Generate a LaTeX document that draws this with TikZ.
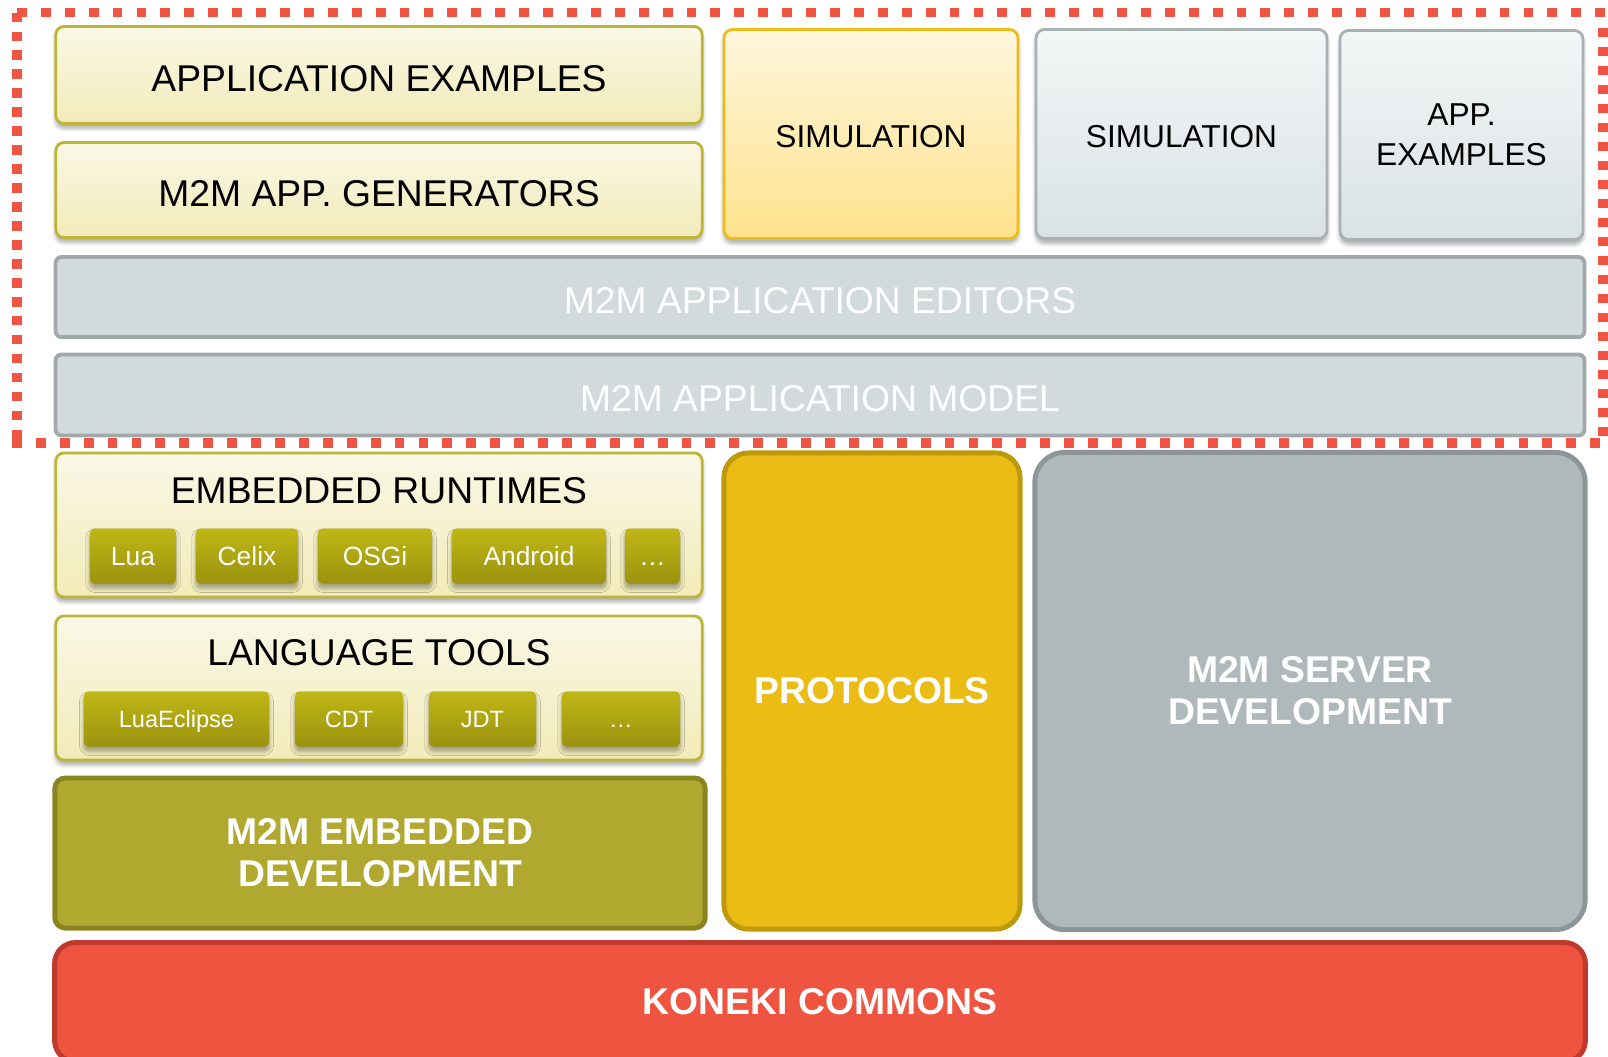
\documentclass[tikz,border=0pt]{standalone}
\usepackage{fontspec}
\setmainfont{Liberation Sans}
\usetikzlibrary{shadows,shadows.blur}

\definecolor{dashred}{HTML}{EF5542}
\definecolor{creamtop}{HTML}{FAF8E6}
\definecolor{creambot}{HTML}{F2EBB9}
\definecolor{olivedraw}{HTML}{BDB43A}
\definecolor{goldtop}{HTML}{FFF7DE}
\definecolor{goldbot}{HTML}{FFE28C}
\definecolor{golddraw}{HTML}{EDBB1A}
\definecolor{greytop}{HTML}{F3F6F6}
\definecolor{greybot}{HTML}{DAE2E5}
\definecolor{greydraw}{HTML}{A8B1B4}
\definecolor{barfill}{HTML}{D3DADC}
\definecolor{bardraw}{HTML}{A2A9AC}
\definecolor{chiptop}{HTML}{BFB716}
\definecolor{chipbot}{HTML}{9B930E}
\definecolor{embfill}{HTML}{B1A92F}
\definecolor{embdraw}{HTML}{8A8420}
\definecolor{protofill}{HTML}{EABC14}
\definecolor{protodraw}{HTML}{BE990C}
\definecolor{srvfill}{HTML}{AFB8BA}
\definecolor{srvdraw}{HTML}{8D9598}
\definecolor{konfill}{HTML}{EE5440}
\definecolor{kondraw}{HTML}{BF3A2C}

\tikzset{
  bigtext/.style={font=\fontsize{10.6}{12.6}\selectfont},
  lowtext/.style={text height=9.2pt,text depth=0pt},
  softshadow/.style={blur shadow={shadow xshift=0pt,shadow yshift=-1.3pt,
    shadow blur radius=1.2pt,shadow blur steps=6,shadow opacity=35}},
  creambox/.style={bigtext,draw=olivedraw,line width=0.8pt,rounded corners=2.3pt,
    top color=creamtop,bottom color=creambot,inner sep=0pt,align=center,softshadow},
  goldbox/.style={draw=golddraw,line width=0.8pt,rounded corners=2.5pt,
    top color=goldtop,bottom color=goldbot,inner sep=0pt,align=center,softshadow,
    font=\fontsize{9}{11.4}\selectfont},
  greybox/.style={goldbox,draw=greydraw,top color=greytop,bottom color=greybot},
  bar/.style={bigtext,lowtext,draw=bardraw,fill=barfill,line width=1.1pt,rounded corners=1.7pt,
    text=white,inner sep=0pt,minimum width=15.28cm},
  chip/.style={rounded corners=1.2pt,top color=chiptop,bottom color=chipbot,text=white,
    inner sep=0pt,minimum height=0.55cm,text depth=0pt,softshadow},
  rtchip/.style={chip,font=\fontsize{7.5}{9}\selectfont,text height=5.4pt},
  ltchip/.style={chip,font=\fontsize{6.7}{8}\selectfont,text height=4.8pt},
  bigbox/.style={bigtext,font=\fontsize{10.6}{12}\selectfont\bfseries,text=white,
    line width=1.4pt,inner sep=0pt,align=center}
}

\begin{document}
\begin{tikzpicture}[x=0.01cm,y=-0.01cm]
\useasboundingbox (0,0) rectangle (1608,1056);

% frame round the application layers
\draw[dashred,line width=2.8pt,dash pattern=on 2.8pt off 4pt] (17,12.5) -- (1608,12.5);
\draw[dashred,line width=2.8pt,dash pattern=on 2.8pt off 4pt] (12,443) -- (1608,443);
\draw[dashred,line width=3pt,dash pattern=on 2.6pt off 2.8pt] (17,12.5) -- (17,443);
\draw[dashred,line width=3pt,dash pattern=on 2.6pt off 2.8pt] (1603,28) -- (1603,436);

% application layers
\node[creambox,lowtext,minimum width=6.46cm,minimum height=0.97cm] (appex) at (379,75) {APPLICATION EXAMPLES};
\node[creambox,lowtext,minimum width=6.46cm,minimum height=0.95cm] (gen) at (379,190) {M2M APP. GENERATORS};
\node[goldbox,text height=7.6pt,text depth=0pt,minimum width=2.94cm,minimum height=2.09cm] (simemb) at (871,134) {SIMULATION};
\node[greybox,text height=7.6pt,text depth=0pt,minimum width=2.91cm,minimum height=2.09cm] (simsrv) at (1181.5,134) {SIMULATION};
\node[greybox,minimum width=2.43cm,minimum height=2.09cm] (appsrv) at (1461.5,135) {APP.\\EXAMPLES};
\node[bar,minimum height=0.8cm] (editors) at (820,297) {M2M APPLICATION EDITORS};
\node[bar,minimum height=0.81cm] (model) at (820,395) {M2M APPLICATION MODEL};

% embedded runtimes
\node[creambox,minimum width=6.46cm,minimum height=1.44cm] (runtimes) at (379,525) {};
\node[bigtext] (rttitle) at (379,491) {EMBEDDED RUNTIMES};
\node[rtchip,minimum width=0.86cm] (lua) at (133,556) {Lua};
\node[rtchip,minimum width=1.02cm] (celix) at (247,556) {Celix};
\node[rtchip,minimum width=1.14cm] (osgi) at (375,556) {OSGi};
\node[rtchip,minimum width=1.54cm] (android) at (529,556) {Android};
\node[rtchip,minimum width=0.55cm] (rtmore) at (652.5,556) {…};

% language tools
\node[creambox,minimum width=6.46cm,minimum height=1.44cm] (tools) at (379,688) {};
\node[bigtext] (lttitle) at (379,653) {LANGUAGE TOOLS};
\node[ltchip,minimum width=1.85cm] (luaecl) at (176.5,719) {LuaEclipse};
\node[ltchip,minimum width=1.08cm] (cdt) at (349,719) {CDT};
\node[ltchip,minimum width=1.07cm] (jdt) at (482.5,719) {JDT};
\node[ltchip,minimum width=1.18cm] (ltmore) at (621,719) {…};

% development layers
\node[bigbox,draw=embdraw,fill=embfill,rounded corners=3pt,
  minimum width=6.5cm,minimum height=1.5cm] (embdev) at (380,853) {M2M EMBEDDED\\DEVELOPMENT};
\node[bigbox,draw=protodraw,fill=protofill,rounded corners=7pt,
  minimum width=2.96cm,minimum height=4.76cm] (protocols) at (872,691) {PROTOCOLS};
\node[bigbox,draw=srvdraw,fill=srvfill,rounded corners=8.5pt,
  minimum width=5.5cm,minimum height=4.77cm] (server) at (1310,691) {M2M SERVER\\DEVELOPMENT};
\node[bigbox,draw=kondraw,fill=konfill,rounded corners=6pt,
  minimum width=15.3cm,minimum height=1.19cm] (koneki) at (820,1002) {KONEKI COMMONS};
\end{tikzpicture}
\end{document}
